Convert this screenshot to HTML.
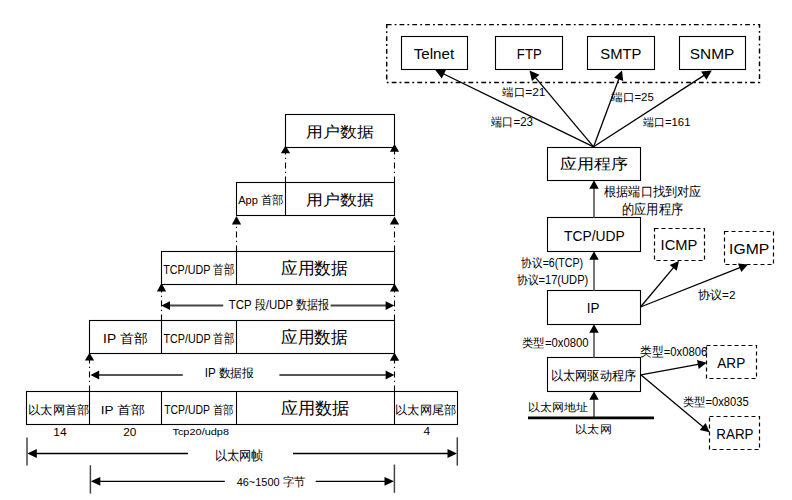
<!DOCTYPE html>
<html><head><meta charset="utf-8"><style>
html,body{margin:0;padding:0;background:#fff;width:792px;height:500px;overflow:hidden}
svg{display:block}
text{font-family:"Liberation Sans",sans-serif;white-space:pre}
</style></head><body>
<svg width="792" height="500" viewBox="0 0 792 500">
<rect width="792" height="500" fill="#fff"/>
<rect x="285.5" y="114.5" width="109.0" height="33" fill="#fff" stroke="#000" stroke-width="1.1"/>
<rect x="236.5" y="182.5" width="158.0" height="33" fill="#fff" stroke="#000" stroke-width="1.1"/>
<line x1="285.5" y1="182.5" x2="285.5" y2="215.5" stroke="#000" stroke-width="1.1"/>
<rect x="161.5" y="251.5" width="233.0" height="33" fill="#fff" stroke="#000" stroke-width="1.1"/>
<line x1="236.5" y1="251.5" x2="236.5" y2="284.5" stroke="#000" stroke-width="1.1"/>
<rect x="89.5" y="320.5" width="305.0" height="33" fill="#fff" stroke="#000" stroke-width="1.1"/>
<line x1="161.5" y1="320.5" x2="161.5" y2="353.5" stroke="#000" stroke-width="1.1"/>
<line x1="236.5" y1="320.5" x2="236.5" y2="353.5" stroke="#000" stroke-width="1.1"/>
<rect x="26.5" y="391.5" width="431.0" height="33" fill="#fff" stroke="#000" stroke-width="1.1"/>
<line x1="89.5" y1="391.5" x2="89.5" y2="424.5" stroke="#000" stroke-width="1.1"/>
<line x1="161.5" y1="391.5" x2="161.5" y2="424.5" stroke="#000" stroke-width="1.1"/>
<line x1="236.5" y1="391.5" x2="236.5" y2="424.5" stroke="#000" stroke-width="1.1"/>
<line x1="394.5" y1="391.5" x2="394.5" y2="424.5" stroke="#000" stroke-width="1.1"/>
<line x1="285.5" y1="182.5" x2="285.5" y2="152.3" stroke="#000" stroke-width="1.1" stroke-dasharray="6 3.5 1.3 3.2"/>
<polygon points="285.5,145.5 280.9,153.3 290.1,153.3" fill="#000"/>
<line x1="394.5" y1="182.5" x2="394.5" y2="150.7" stroke="#000" stroke-width="1.1" stroke-dasharray="6 3.5 1.3 3.2"/>
<polygon points="394.5,144 389.9,151.7 399.1,151.7" fill="#000"/>
<line x1="236.5" y1="251.5" x2="236.5" y2="223.5" stroke="#000" stroke-width="1.1" stroke-dasharray="6 3.5 1.3 3.2"/>
<polygon points="236.5,216.1 231.9,224.5 241.1,224.5" fill="#000"/>
<line x1="394.5" y1="251.5" x2="394.5" y2="223.5" stroke="#000" stroke-width="1.1" stroke-dasharray="6 3.5 1.3 3.2"/>
<polygon points="394.5,216.4 389.9,224.5 399.1,224.5" fill="#000"/>
<line x1="161.5" y1="320.5" x2="161.5" y2="290.4" stroke="#000" stroke-width="1.1" stroke-dasharray="6 3.5 1.3 3.2"/>
<polygon points="161.5,283.1 156.9,291.4 166.1,291.4" fill="#000"/>
<line x1="394.5" y1="320.5" x2="394.5" y2="290.6" stroke="#000" stroke-width="1.1" stroke-dasharray="6 3.5 1.3 3.2"/>
<polygon points="394.5,283.5 389.9,291.6 399.1,291.6" fill="#000"/>
<line x1="89.5" y1="391.5" x2="89.5" y2="359.6" stroke="#000" stroke-width="1.1" stroke-dasharray="6 3.5 1.3 3.2"/>
<polygon points="89.5,352.7 84.9,360.6 94.1,360.6" fill="#000"/>
<line x1="394.5" y1="391.5" x2="394.5" y2="359.7" stroke="#000" stroke-width="1.1" stroke-dasharray="6 3.5 1.3 3.2"/>
<polygon points="394.5,352.6 389.9,360.7 399.1,360.7" fill="#000"/>
<line x1="169.3" y1="305.6" x2="223.2" y2="305.6" stroke="#444" stroke-width="2"/>
<line x1="330.6" y1="305.6" x2="386.3" y2="305.6" stroke="#444" stroke-width="2"/>
<polygon points="161.30,305.60 170.00,310.00 170.00,301.20" fill="#000"/>
<polygon points="394.30,305.60 385.60,301.20 385.60,310.00" fill="#000"/>
<line x1="98.5" y1="375" x2="182.8" y2="375" stroke="#555" stroke-width="2"/>
<line x1="279.4" y1="375" x2="386.3" y2="375" stroke="#555" stroke-width="2"/>
<polygon points="90.50,375.00 99.20,379.40 99.20,370.60" fill="#000"/>
<polygon points="394.30,375.00 385.60,370.60 385.60,379.40" fill="#000"/>
<line x1="35.3" y1="453.5" x2="188" y2="453.5" stroke="#000" stroke-width="1.3"/>
<line x1="293" y1="453.5" x2="449" y2="453.5" stroke="#000" stroke-width="1.3"/>
<polygon points="27.30,453.50 36.80,457.90 36.80,449.10" fill="#000"/>
<polygon points="457.00,453.50 447.50,449.10 447.50,457.90" fill="#000"/>
<line x1="98.8" y1="481.3" x2="224.8" y2="481.3" stroke="#000" stroke-width="1.3"/>
<line x1="315.7" y1="481.3" x2="386" y2="481.3" stroke="#000" stroke-width="1.3"/>
<polygon points="90.80,481.30 100.30,485.70 100.30,476.90" fill="#000"/>
<polygon points="394.00,481.30 384.50,476.90 384.50,485.70" fill="#000"/>
<line x1="27" y1="437.5" x2="27" y2="465.5" stroke="#444" stroke-width="1.5"/>
<line x1="457.3" y1="437.3" x2="457.3" y2="465.6" stroke="#444" stroke-width="1.5"/>
<line x1="90.4" y1="465.3" x2="90.4" y2="493.6" stroke="#444" stroke-width="1.5"/>
<line x1="394.4" y1="464.5" x2="394.4" y2="492.8" stroke="#444" stroke-width="1.5"/>
<rect x="386.7" y="24.6" width="372.8" height="57.8" fill="none" stroke="#000" stroke-width="1.45" stroke-dasharray="4.8 3.1 1.9 3"/>
<rect x="401.5" y="36.5" width="66.0" height="33" fill="#fff" stroke="#000" stroke-width="1.1"/>
<rect x="495.5" y="36.5" width="67.0" height="33" fill="#fff" stroke="#000" stroke-width="1.1"/>
<rect x="587.5" y="36.5" width="67.0" height="33" fill="#fff" stroke="#000" stroke-width="1.1"/>
<rect x="679.5" y="36.5" width="66.0" height="33" fill="#fff" stroke="#000" stroke-width="1.1"/>
<line x1="593.6" y1="146.8" x2="440.70" y2="72.52" stroke="#000" stroke-width="1.3"/>
<polygon points="435.30,69.90 441.79,78.50 446.08,69.69" fill="#000"/>
<line x1="593.6" y1="146.8" x2="533.36" y2="75.09" stroke="#000" stroke-width="1.3"/>
<polygon points="529.50,70.50 531.92,81.00 539.43,74.70" fill="#000"/>
<line x1="593.6" y1="146.8" x2="619.91" y2="76.02" stroke="#000" stroke-width="1.3"/>
<polygon points="622.00,70.40 614.06,77.69 623.25,81.11" fill="#000"/>
<line x1="593.6" y1="146.8" x2="706.76" y2="73.66" stroke="#000" stroke-width="1.3"/>
<polygon points="711.80,70.40 701.08,71.50 706.40,79.73" fill="#000"/>
<rect x="547.5" y="147.5" width="93" height="33.0" fill="#fff" stroke="#000" stroke-width="1.1"/>
<rect x="547.5" y="217.5" width="93" height="34.0" fill="#fff" stroke="#000" stroke-width="1.1"/>
<rect x="547.5" y="290.5" width="93" height="34.0" fill="#fff" stroke="#000" stroke-width="1.1"/>
<rect x="547.5" y="357.5" width="93" height="34.0" fill="#fff" stroke="#000" stroke-width="1.1"/>
<line x1="594" y1="186.5" x2="594" y2="217.5" stroke="#666" stroke-width="1.8"/>
<polygon points="594,180.2 589.3,188.8 598.7,188.8" fill="#000"/>
<line x1="594" y1="257.5" x2="594" y2="290.5" stroke="#666" stroke-width="1.8"/>
<polygon points="594,251.2 589.3,259.8 598.7,259.8" fill="#000"/>
<line x1="594" y1="330.5" x2="594" y2="357.5" stroke="#666" stroke-width="1.8"/>
<polygon points="594,324.2 589.3,332.8 598.7,332.8" fill="#000"/>
<line x1="594" y1="397.5" x2="594" y2="417.8" stroke="#666" stroke-width="1.8"/>
<polygon points="594,391.2 589.3,399.8 598.7,399.8" fill="#000"/>
<rect x="654.5" y="228.5" width="50.0" height="32.0" fill="none" stroke="#000" stroke-width="1.2" stroke-dasharray="4 3"/>
<rect x="724.5" y="231.5" width="49.0" height="33.0" fill="none" stroke="#000" stroke-width="1.2" stroke-dasharray="4 3"/>
<rect x="706.5" y="345.5" width="50.0" height="33.0" fill="none" stroke="#000" stroke-width="1.2" stroke-dasharray="4 3"/>
<rect x="709.5" y="416.5" width="50.0" height="33.0" fill="none" stroke="#000" stroke-width="1.2" stroke-dasharray="4 3"/>
<line x1="640.5" y1="307" x2="675.15" y2="265.60" stroke="#000" stroke-width="1.3"/>
<polygon points="679.00,261.00 669.70,264.95 676.75,270.85" fill="#000"/>
<line x1="640.5" y1="307" x2="742.42" y2="266.61" stroke="#000" stroke-width="1.3"/>
<polygon points="748.00,264.40 737.94,263.44 741.33,271.99" fill="#000"/>
<line x1="640.8" y1="374.8" x2="700.80" y2="363.87" stroke="#000" stroke-width="1.3"/>
<polygon points="706.70,362.80 697.02,359.89 698.67,368.94" fill="#000"/>
<line x1="640.8" y1="374.8" x2="705.00" y2="428.45" stroke="#000" stroke-width="1.3"/>
<polygon points="709.60,432.30 705.64,423.00 699.74,430.06" fill="#000"/>
<line x1="528" y1="417.8" x2="654" y2="417.8" stroke="#000" stroke-width="2.8"/>
<text id="t0" x="306.00" y="137.20" font-size="14.98" textLength="67.45" lengthAdjust="spacingAndGlyphs" fill="#000">用户数据</text>
<text id="t1" x="238.21" y="203.65" font-size="11.60" textLength="45.63" lengthAdjust="spacingAndGlyphs" fill="#000">App 首部</text>
<text id="t2" x="305.79" y="204.80" font-size="15.26" textLength="67.80" lengthAdjust="spacingAndGlyphs" fill="#000">用户数据</text>
<text id="t3" x="163.22" y="274.17" font-size="13.39" textLength="70.86" lengthAdjust="spacingAndGlyphs" fill="#000">TCP/UDP 首部</text>
<text id="t4" x="280.83" y="274.34" font-size="16.91" textLength="67.29" lengthAdjust="spacingAndGlyphs" fill="#000">应用数据</text>
<text id="t5" x="228.75" y="309.03" font-size="13.41" textLength="100.55" lengthAdjust="spacingAndGlyphs" fill="#000">TCP 段/UDP 数据报</text>
<text id="t6" x="103.14" y="342.93" font-size="12.88" textLength="44.45" lengthAdjust="spacingAndGlyphs" fill="#000">IP 首部</text>
<text id="t7" x="163.43" y="343.18" font-size="13.44" textLength="70.69" lengthAdjust="spacingAndGlyphs" fill="#000">TCP/UDP 首部</text>
<text id="t8" x="280.83" y="343.24" font-size="16.67" textLength="66.80" lengthAdjust="spacingAndGlyphs" fill="#000">应用数据</text>
<text id="t9" x="204.75" y="377.24" font-size="11.89" textLength="49.25" lengthAdjust="spacingAndGlyphs" fill="#000">IP 数据报</text>
<text id="t10" x="28.02" y="414.10" font-size="11.74" textLength="61.58" lengthAdjust="spacingAndGlyphs" fill="#000">以太网首部</text>
<text id="t11" x="100.67" y="413.72" font-size="11.65" textLength="44.32" lengthAdjust="spacingAndGlyphs" fill="#000">IP 首部</text>
<text id="t12" x="164.22" y="414.30" font-size="11.98" textLength="69.30" lengthAdjust="spacingAndGlyphs" fill="#000">TCP/UDP 首部</text>
<text id="t13" x="280.79" y="413.87" font-size="16.76" textLength="68.86" lengthAdjust="spacingAndGlyphs" fill="#000">应用数据</text>
<text id="t14" x="395.01" y="414.37" font-size="11.63" textLength="61.32" lengthAdjust="spacingAndGlyphs" fill="#000">以太网尾部</text>
<text id="t15" x="53.32" y="436.13" font-size="11.33" textLength="13.38" lengthAdjust="spacingAndGlyphs" fill="#000">14</text>
<text id="t16" x="123.25" y="435.84" font-size="10.23" textLength="13.16" lengthAdjust="spacingAndGlyphs" fill="#000">20</text>
<text id="t17" x="172.43" y="435.09" font-size="9.90" textLength="56.61" lengthAdjust="spacingAndGlyphs" fill="#000">Tcp20/udp8</text>
<text id="t18" x="423.61" y="435.18" font-size="10.34" textLength="6.62" lengthAdjust="spacingAndGlyphs" fill="#000">4</text>
<text id="t19" x="214.55" y="460.35" font-size="12.51" textLength="49.01" lengthAdjust="spacingAndGlyphs" fill="#000">以太网帧</text>
<text id="t20" x="236.65" y="485.51" font-size="11.67" textLength="68.54" lengthAdjust="spacingAndGlyphs" fill="#000">46~1500 字节</text>
<text id="t21" x="413.72" y="58.72" font-size="15.17" textLength="40.43" lengthAdjust="spacingAndGlyphs" fill="#000">Telnet</text>
<text id="t22" x="516.86" y="59.31" font-size="15.16" textLength="24.87" lengthAdjust="spacingAndGlyphs" fill="#000">FTP</text>
<text id="t23" x="600.33" y="59.10" font-size="15.29" textLength="41.09" lengthAdjust="spacingAndGlyphs" fill="#000">SMTP</text>
<text id="t24" x="689.78" y="59.10" font-size="15.29" textLength="44.58" lengthAdjust="spacingAndGlyphs" fill="#000">SNMP</text>
<text id="t25" x="502.27" y="96.00" font-size="11.42" textLength="43.09" lengthAdjust="spacingAndGlyphs" fill="#000">端口=21</text>
<text id="t26" x="491.24" y="126.24" font-size="12.49" textLength="41.81" lengthAdjust="spacingAndGlyphs" fill="#000">端口=23</text>
<text id="t27" x="611.01" y="101.14" font-size="10.74" textLength="42.84" lengthAdjust="spacingAndGlyphs" fill="#000">端口=25</text>
<text id="t28" x="643.03" y="126.01" font-size="11.35" textLength="47.42" lengthAdjust="spacingAndGlyphs" fill="#000">端口=161</text>
<text id="t29" x="560.19" y="168.99" font-size="14.52" textLength="68.26" lengthAdjust="spacingAndGlyphs" fill="#000">应用程序</text>
<text id="t30" x="604.07" y="195.59" font-size="12.60" textLength="97.46" lengthAdjust="spacingAndGlyphs" fill="#000">根据端口找到对应</text>
<text id="t31" x="621.85" y="213.63" font-size="13.53" textLength="61.41" lengthAdjust="spacingAndGlyphs" fill="#000">的应用程序</text>
<text id="t32" x="564.05" y="240.63" font-size="15.18" textLength="60.68" lengthAdjust="spacingAndGlyphs" fill="#000">TCP/UDP</text>
<text id="t33" x="521.37" y="266.83" font-size="12.00" textLength="61.79" lengthAdjust="spacingAndGlyphs" fill="#000">协议=6(TCP)</text>
<text id="t34" x="516.77" y="284.31" font-size="12.30" textLength="71.52" lengthAdjust="spacingAndGlyphs" fill="#000">协议=17(UDP)</text>
<text id="t35" x="660.59" y="250.45" font-size="13.81" textLength="36.81" lengthAdjust="spacingAndGlyphs" fill="#000">ICMP</text>
<text id="t36" x="729.07" y="254.24" font-size="15.04" textLength="40.20" lengthAdjust="spacingAndGlyphs" fill="#000">IGMP</text>
<text id="t37" x="697.87" y="298.68" font-size="11.63" textLength="37.60" lengthAdjust="spacingAndGlyphs" fill="#000">协议=2</text>
<text id="t38" x="586.73" y="313.19" font-size="15.40" textLength="12.77" lengthAdjust="spacingAndGlyphs" fill="#000">IP</text>
<text id="t39" x="521.98" y="346.57" font-size="11.87" textLength="66.68" lengthAdjust="spacingAndGlyphs" fill="#000">类型=0x0800</text>
<text id="t40" x="640.38" y="356.09" font-size="12.60" textLength="66.92" lengthAdjust="spacingAndGlyphs" fill="#000">类型=0x0806</text>
<text id="t41" x="717.34" y="368.11" font-size="15.46" textLength="27.89" lengthAdjust="spacingAndGlyphs" fill="#000">ARP</text>
<text id="t42" x="550.90" y="380.15" font-size="12.66" textLength="85.25" lengthAdjust="spacingAndGlyphs" fill="#000">以太网驱动程序</text>
<text id="t43" x="682.81" y="405.66" font-size="11.89" textLength="65.95" lengthAdjust="spacingAndGlyphs" fill="#000">类型=0x8035</text>
<text id="t44" x="528.20" y="411.40" font-size="11.31" textLength="59.78" lengthAdjust="spacingAndGlyphs" fill="#000">以太网地址</text>
<text id="t45" x="575.42" y="433.28" font-size="11.28" textLength="36.16" lengthAdjust="spacingAndGlyphs" fill="#000">以太网</text>
<text id="t46" x="716.33" y="439.12" font-size="14.33" textLength="37.20" lengthAdjust="spacingAndGlyphs" fill="#000">RARP</text>
</svg></body></html>
